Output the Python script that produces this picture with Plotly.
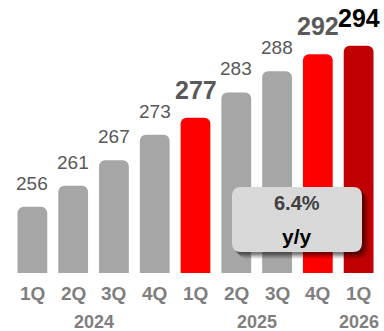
import plotly.graph_objects as go

quarters = ["1Q", "2Q", "3Q", "4Q", "1Q", "2Q", "3Q", "4Q", "1Q"]
values = [256, 261, 267, 273, 277, 283, 288, 292, 294]
bar_colors = ["#A6A6A6", "#A6A6A6", "#A6A6A6", "#A6A6A6", "#FF0000",
              "#A6A6A6", "#A6A6A6", "#FF0000", "#C00000"]
label_bold = [False, False, False, False, True, False, False, True, True]
label_colors = ["#595959", "#595959", "#595959", "#595959", "#595959",
                "#595959", "#595959", "#595959", "#000000"]
years = ["2024", "2025", "2026"]
year_pos = [1.5, 5.5, 8]
growth_text = "6.4%"
growth_unit = "y/y"

W, H = 384, 331
ML, MR, MT, MB = 12, 5, 0, 58
PW, PH = W - ML - MR, H - MT - MB

NARROW = "Liberation Sans Narrow, Arial Narrow, Liberation Sans, Arial, sans-serif"
SANS = "Liberation Sans, Arial, sans-serif"

x = list(range(len(values)))
fig = go.Figure(go.Bar(
    x=x, y=values, marker=dict(color=bar_colors, line=dict(width=0), cornerradius=6),
    width=0.73, hoverinfo="skip",
))

annotations = []
for i, (v, b, c) in enumerate(zip(values, label_bold, label_colors)):
    txt = f"<b>{v}</b>" if b else str(v)
    annotations.append(dict(
        x=i, y=v, xref="x", yref="y", text=txt, showarrow=False,
        yanchor="bottom", yshift=12 if b else 11,
        font=dict(family=NARROW, size=25 if b else 19, color=c),
    ))
for i, q in enumerate(quarters):
    annotations.append(dict(
        x=i, y=0, xref="x", yref="paper", text=f"<b>{q}</b>", showarrow=False,
        xanchor="center", yanchor="middle", yshift=-20,
        font=dict(family=SANS, size=19, color="#7F7F7F"),
    ))
for yr, p in zip(years, year_pos):
    annotations.append(dict(
        x=p, y=0, xref="x", yref="paper", text=f"<b>{yr}</b>", showarrow=False,
        xanchor="center", yanchor="middle", yshift=-49,
        font=dict(family=SANS, size=18, color="#7F7F7F"),
    ))


# rounded callout box drawn in paper coordinates from pixel geometry
def px_x(px):
    return (px - ML) / PW


def px_y(py):
    return (H - MB - py) / PH


def rounded_rect(x0, y0, x1, y1, r):
    pts = [
        f"M {px_x(x0 + r)} {px_y(y0)}",
        f"L {px_x(x1 - r)} {px_y(y0)}",
        f"Q {px_x(x1)} {px_y(y0)} {px_x(x1)} {px_y(y0 + r)}",
        f"L {px_x(x1)} {px_y(y1 - r)}",
        f"Q {px_x(x1)} {px_y(y1)} {px_x(x1 - r)} {px_y(y1)}",
        f"L {px_x(x0 + r)} {px_y(y1)}",
        f"Q {px_x(x0)} {px_y(y1)} {px_x(x0)} {px_y(y1 - r)}",
        f"L {px_x(x0)} {px_y(y0 + r)}",
        f"Q {px_x(x0)} {px_y(y0)} {px_x(x0 + r)} {px_y(y0)}",
        "Z",
    ]
    return " ".join(pts)


bx0, by0, bx1, by1 = 232, 187, 362, 252
shapes = []
# soft drop shadow: stacked translucent copies offset down-right
for off, op in [(7, 0.06), (6, 0.08), (5, 0.10), (4, 0.12), (3, 0.14), (2, 0.16)]:
    shapes.append(dict(
        type="path", xref="paper", yref="paper",
        path=rounded_rect(bx0 + off - 1, by0 + off - 1, bx1 + off, by1 + off, 10),
        fillcolor="#000000", opacity=op, line=dict(width=0),
    ))
shapes.append(dict(
    type="path", xref="paper", yref="paper",
    path=rounded_rect(bx0, by0, bx1, by1, 9),
    fillcolor="#D9D9D9", line=dict(width=0),
))
cx = px_x((bx0 + bx1) / 2)
annotations.append(dict(
    x=cx, y=px_y(203), xref="paper", yref="paper", text=f"<b>{growth_text}</b>",
    showarrow=False, xanchor="center", yanchor="middle",
    font=dict(family=SANS, size=20, color="#404040"),
))
annotations.append(dict(
    x=cx, y=px_y(236), xref="paper", yref="paper", text=f"<b>{growth_unit}</b>",
    showarrow=False, xanchor="center", yanchor="middle",
    font=dict(family=SANS, size=21, color="#000000"),
))

fig.update_layout(
    width=W, height=H,
    margin=dict(l=ML, r=MR, t=MT, b=MB),
    paper_bgcolor="white", plot_bgcolor="white",
    showlegend=False,
    xaxis=dict(range=[-0.5, len(values) - 0.5], visible=False),
    yaxis=dict(range=[240.4, 304.8], visible=False),
    annotations=annotations, shapes=shapes,
)

fig.write_html("out.html", config={"displayModeBar": False})
